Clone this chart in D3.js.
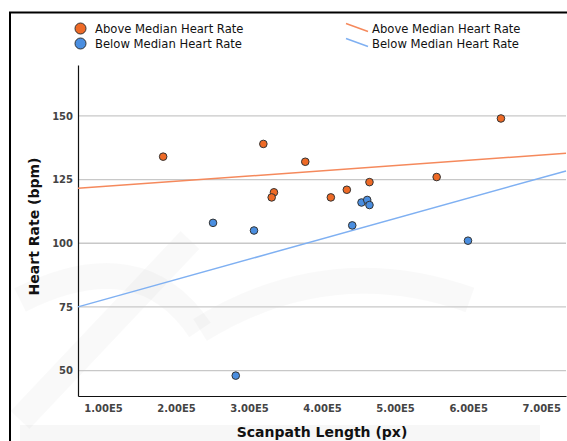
<!DOCTYPE html>
<html>
<head>
<meta charset="utf-8">
<script src="https://cdn.jsdelivr.net/npm/d3@7"></script>
<style>
  html, body { margin: 0; padding: 0; background: #fff; }
  svg { display: block; }
  text { font-family: "Lucida Grande", "DejaVu Sans", sans-serif; }
</style>
</head>
<body>
<svg id="chart" width="567" height="441"></svg>
<script>
// ---- data ----
const seriesNames = ["Above Median Heart Rate", "Below Median Heart Rate"];
const aboveX = [182400, 319600, 377000, 334100, 331000, 412000, 433900, 464900, 644900, 556900];
const aboveY = [134, 139, 132, 120, 118, 118, 121, 124, 149, 126];
const belowX = [454000, 461800, 464900, 250700, 306800, 441300, 599800, 281800];
const belowY = [116, 117, 115, 108, 105, 107, 101, 48];
const fitX = [65800, 734000];
const aboveFitY = [121.6, 135.3];
const belowFitY = [75.0, 128.4];
const xTicks = [100000, 200000, 300000, 400000, 500000, 600000, 700000];
const yTicks = [50, 75, 100, 125, 150];
const xDomain = [65800, 734000];
const yDomain = [40, 170];

const colors = { aboveDot: "#ee6a26", belowDot: "#4a8ee0", aboveLine: "#f5895c", belowLine: "#7fb0f2" };

const svg = d3.select("#chart");
const W = 567, H = 441;
const plot = { left: 78, right: 566, top: 65, bottom: 396 };

const x = d3.scaleLinear().domain(xDomain).range([plot.left, plot.right]);
const y = d3.scaleLinear().domain(yDomain).range([plot.bottom, plot.top]);

// faint watermark shapes
const wm = svg.append("g").attr("fill", "none").attr("stroke", "#000").attr("stroke-opacity", 0.022);
wm.append("path").attr("d", "M 20 420 L 190 240").attr("stroke-width", 26);
wm.append("path").attr("d", "M 20 300 Q 140 240 200 330").attr("stroke-width", 26);
wm.append("path").attr("d", "M 200 330 Q 330 250 470 300").attr("stroke-width", 26);
svg.append("rect").attr("x", 20).attr("y", 425).attr("width", 520).attr("height", 30)
  .attr("fill", "#000").attr("fill-opacity", 0.03);

// frame
svg.append("path")
  .attr("d", `M 10 ${H + 2} L 10 12.5 L ${W + 2} 12.5`)
  .attr("fill", "none").attr("stroke", "#000").attr("stroke-width", 2);

// grid
svg.append("g").selectAll("line").data(yTicks).join("line")
  .attr("x1", plot.left).attr("x2", plot.right)
  .attr("y1", d => y(d)).attr("y2", d => y(d))
  .attr("stroke", "#c8c8c8").attr("stroke-width", 1.3);

// axes
const yAxis = d3.axisLeft(y).tickValues(yTicks).tickSize(0).tickPadding(5).tickFormat(d3.format("d"));
const gy = svg.append("g").attr("transform", `translate(${plot.left},0)`).call(yAxis);
gy.select(".domain").attr("stroke", "#111").attr("stroke-width", 1.2);
gy.selectAll("text").attr("font-size", 10).attr("font-weight", "bold").attr("fill", "#444")
  .attr("font-family", "'Lucida Grande','DejaVu Sans',sans-serif");

const xAxis = d3.axisBottom(x).tickValues(xTicks).tickSize(0).tickPadding(9)
  .tickFormat(d => (d / 1e5).toFixed(2) + "E5");
const gx = svg.append("g").attr("transform", `translate(0,${plot.bottom})`).call(xAxis);
gx.select(".domain").attr("stroke", "#111").attr("stroke-width", 1.2);
gx.selectAll("text").attr("font-size", 10).attr("font-weight", "bold").attr("fill", "#444")
  .attr("font-family", "'Lucida Grande','DejaVu Sans',sans-serif");

// axis titles
svg.append("text").attr("x", (plot.left + plot.right) / 2).attr("y", 437)
  .attr("text-anchor", "middle").attr("font-size", 14).attr("font-weight", "bold").attr("fill", "#111")
  .text("Scanpath Length (px)");
svg.append("text").attr("transform", `translate(39,${(plot.top + plot.bottom) / 2 - 4}) rotate(-90)`)
  .attr("text-anchor", "middle").attr("font-size", 14).attr("font-weight", "bold").attr("fill", "#111")
  .text("Heart Rate (bpm)");

// fit lines
const lineGen = d3.line().x(d => x(d[0])).y(d => y(d[1]));
svg.append("path").datum(fitX.map((v, i) => [v, aboveFitY[i]]))
  .attr("d", lineGen).attr("fill", "none").attr("stroke", colors.aboveLine).attr("stroke-width", 1.5);
svg.append("path").datum(fitX.map((v, i) => [v, belowFitY[i]]))
  .attr("d", lineGen).attr("fill", "none").attr("stroke", colors.belowLine).attr("stroke-width", 1.5);

// points
const above = aboveX.map((v, i) => [v, aboveY[i]]);
const below = belowX.map((v, i) => [v, belowY[i]]);
svg.append("g").selectAll("circle").data(above).join("circle")
  .attr("cx", d => x(d[0])).attr("cy", d => y(d[1])).attr("r", 3.8)
  .attr("fill", colors.aboveDot).attr("stroke", "#333").attr("stroke-width", 1);
svg.append("g").selectAll("circle").data(below).join("circle")
  .attr("cx", d => x(d[0])).attr("cy", d => y(d[1])).attr("r", 3.8)
  .attr("fill", colors.belowDot).attr("stroke", "#333").attr("stroke-width", 1);

// legends
const leg = svg.append("g");
const dotCols = [colors.aboveDot, colors.belowDot];
const lineCols = [colors.aboveLine, colors.belowLine];
seriesNames.forEach((name, i) => {
  const cy = 28.5 + i * 15;
  leg.append("circle").attr("cx", 80.5).attr("cy", cy).attr("r", 5.5)
    .attr("fill", dotCols[i]).attr("stroke", "#333").attr("stroke-width", 1);
  leg.append("text").attr("x", 95).attr("y", cy + 4).attr("font-size", 11.6).attr("fill", "#111").text(name);
  leg.append("line").attr("x1", 346).attr("y1", cy - 5).attr("x2", 368).attr("y2", cy + 3)
    .attr("stroke", lineCols[i]).attr("stroke-width", 1.5);
  leg.append("text").attr("x", 372).attr("y", cy + 4).attr("font-size", 11.6).attr("fill", "#111").text(name);
});
</script>
</body>
</html>
